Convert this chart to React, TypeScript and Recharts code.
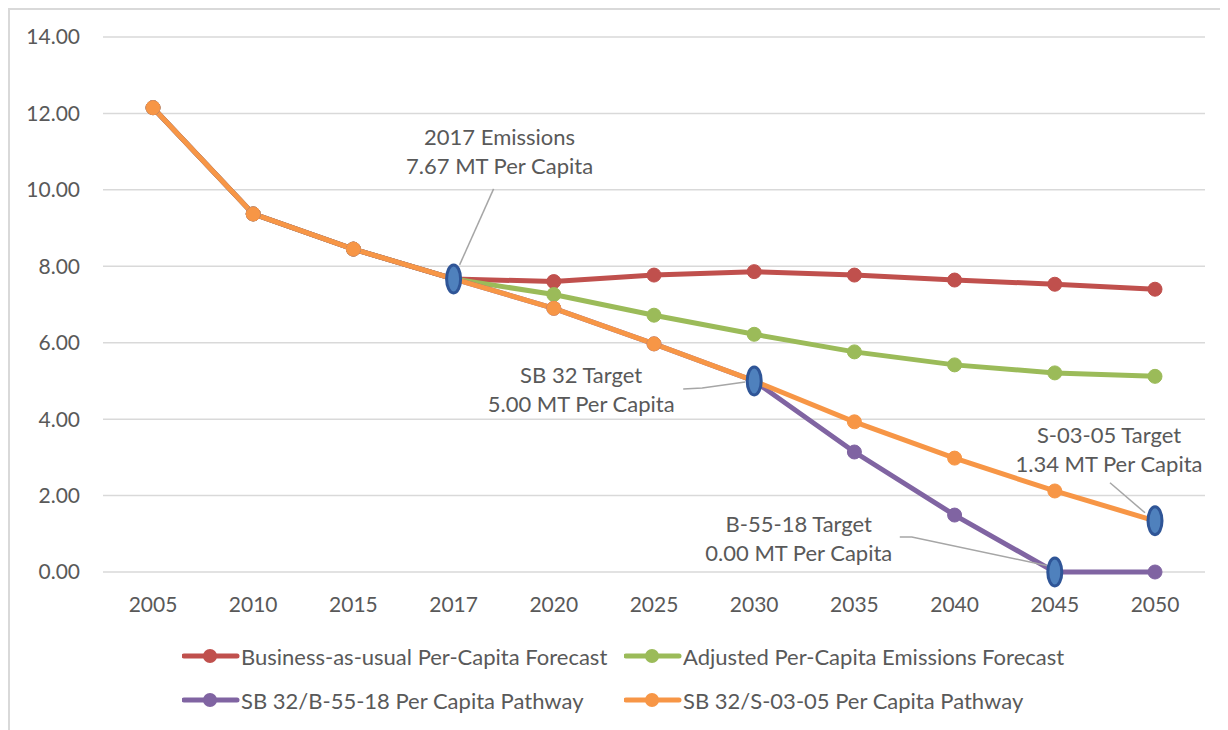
import React from 'react';
import { LineChart, Line, XAxis, YAxis, CartesianGrid, Legend } from 'recharts';

const years = ['2005', '2010', '2015', '2017', '2020', '2025', '2030', '2035', '2040', '2045', '2050'];
const businessAsUsual = [12.15, 9.37, 8.45, 7.67, 7.6, 7.77, 7.86, 7.77, 7.64, 7.53, 7.4];
const adjustedForecast = [12.15, 9.37, 8.45, 7.67, 7.26, 6.72, 6.22, 5.76, 5.42, 5.21, 5.12];
const b5518Pathway = [12.15, 9.37, 8.45, 7.67, 6.9, 5.97, 5.0, 3.14, 1.49, 0.0, 0.0];
const s0305Pathway = [12.15, 9.37, 8.45, 7.67, 6.9, 5.97, 5.0, 3.93, 2.98, 2.12, 1.34];
const yTicks = [0, 2, 4, 6, 8, 10, 12, 14];

const annotationYears = ['2017', '2030', '2045', '2050'];
const annotationValues = [7.67, 5.0, 0.0, 1.34];
const annotationTitles = ['2017 Emissions', 'SB 32 Target', 'B-55-18 Target', 'S-03-05 Target'];
const annotationSubtitles = ['7.67 MT Per Capita', '5.00 MT Per Capita', '0.00 MT Per Capita', '1.34 MT Per Capita'];

const series = [
  { key: 'bau', name: 'Business-as-usual Per-Capita Forecast', values: businessAsUsual, color: '#C0504D' },
  { key: 'adj', name: 'Adjusted Per-Capita Emissions Forecast', values: adjustedForecast, color: '#9BBB59' },
  { key: 'b55', name: 'SB 32/B-55-18 Per Capita Pathway', values: b5518Pathway, color: '#8064A2' },
  { key: 's03', name: 'SB 32/S-03-05 Per Capita Pathway', values: s0305Pathway, color: '#F79646' },
];

const data = years.map((year, i) => {
  const row: Record<string, string | number | null> = { year };
  series.forEach((s) => {
    row[s.key] = s.values[i];
  });
  const a = annotationYears.indexOf(year);
  row.marker = a >= 0 ? annotationValues[a] : null;
  return row;
});

// label placement relative to the marker (text centre, leader points)
const annotationLayout: Record<string, { tx: number; ty: number; leader: number[][] }> = {
  '2017': { tx: 46, ty: -142, leader: [[40, -90], [6, -14]] },
  '2030': { tx: -173, ty: -6, leader: [[-71, 8], [-52, 7], [-9, 1]] },
  '2045': { tx: -256, ty: -49, leader: [[-155, -35], [-143, -35], [-6, -6]] },
  '2050': { tx: -46, ty: -86, leader: [[-45, -38], [-10, -8]] },
};

const FONT = 'Lato, "Open Sans", sans-serif';
const TEXT = '#595959';

const Marker = (props: any) => {
  const { cx, cy, payload, value } = props;
  if (value == null || cx == null || cy == null) return <g />;
  const i = annotationYears.indexOf(payload.year);
  const l = annotationLayout[payload.year];
  const pts = l.leader.map(([dx, dy]) => `${cx + dx},${cy + dy}`).join(' ');
  return (
    <g>
      <polyline points={pts} fill="none" stroke="#a6a6a6" strokeWidth={1.5} />
      <ellipse cx={cx} cy={cy} rx={7} ry={14} fill="#4F81BD" stroke="#2F5597" strokeWidth={3} />
      <text x={cx + l.tx} y={cy + l.ty} textAnchor="middle" dominantBaseline="central" fill={TEXT} fontSize={22} fontFamily={FONT}>
        {annotationTitles[i]}
      </text>
      <text x={cx + l.tx} y={cy + l.ty + 29} textAnchor="middle" dominantBaseline="central" fill={TEXT} fontSize={22} fontFamily={FONT}>
        {annotationSubtitles[i]}
      </text>
    </g>
  );
};

const LegendBox = () => {
  const cols = [172, 614];
  return (
    <div style={{ position: 'relative', height: 118, fontFamily: FONT, fontSize: 22, color: TEXT }}>
      {series.map((s, i) => (
        <div
          key={s.key}
          style={{
            position: 'absolute',
            left: cols[i % 2],
            top: i < 2 ? 30 : 74,
            height: 28,
            display: 'flex',
            alignItems: 'center',
            whiteSpace: 'nowrap',
          }}
        >
          <svg width={58} height={20} style={{ marginRight: 1 }}>
            <line x1={2} y1={10} x2={55} y2={10} stroke={s.color} strokeWidth={5} strokeLinecap="round" />
            <circle cx={28} cy={10} r={7} fill={s.color} />
          </svg>
          <span>{s.name}</span>
        </div>
      ))}
    </div>
  );
};

const App = () => {
  return (
    <div style={{ width: 1220, height: 722, borderLeft: '2px solid #d9d9d9', borderTop: '2px solid #d9d9d9', boxSizing: 'border-box', background: '#fff' }}>
      <LineChart width={1218} height={720} data={data} margin={{ top: 27, right: 23, left: 0, bottom: 0 }}>
        <CartesianGrid vertical={false} stroke="#d9d9d9" strokeWidth={1.5} />
        <XAxis
          dataKey="year"
          axisLine={false}
          tickLine={false}
          height={40}
          tickMargin={19}
          padding={{ left: 50, right: 50 }}
          tick={{ fill: TEXT, fontSize: 21, fontFamily: FONT }}
        />
        <YAxis
          domain={[0, 14]}
          ticks={yTicks}
          width={93}
          axisLine={false}
          tickLine={false}
          tickMargin={17}
          tickFormatter={(v: number) => v.toFixed(2)}
          tick={{ fill: TEXT, fontSize: 21, fontFamily: FONT }}
        />
        <Legend verticalAlign="bottom" content={() => <LegendBox />} />
        {series.map((s) => (
          <Line
            key={s.key}
            type="linear"
            dataKey={s.key}
            name={s.name}
            stroke={s.color}
            strokeWidth={5}
            dot={{ r: 7, fill: s.color, stroke: s.color, strokeWidth: 1 }}
            activeDot={false}
            isAnimationActive={false}
          />
        ))}
        <Line
          dataKey="marker"
          stroke="none"
          legendType="none"
          connectNulls={false}
          dot={<Marker />}
          activeDot={false}
          isAnimationActive={false}
        />
      </LineChart>
    </div>
  );
};

export default App;
